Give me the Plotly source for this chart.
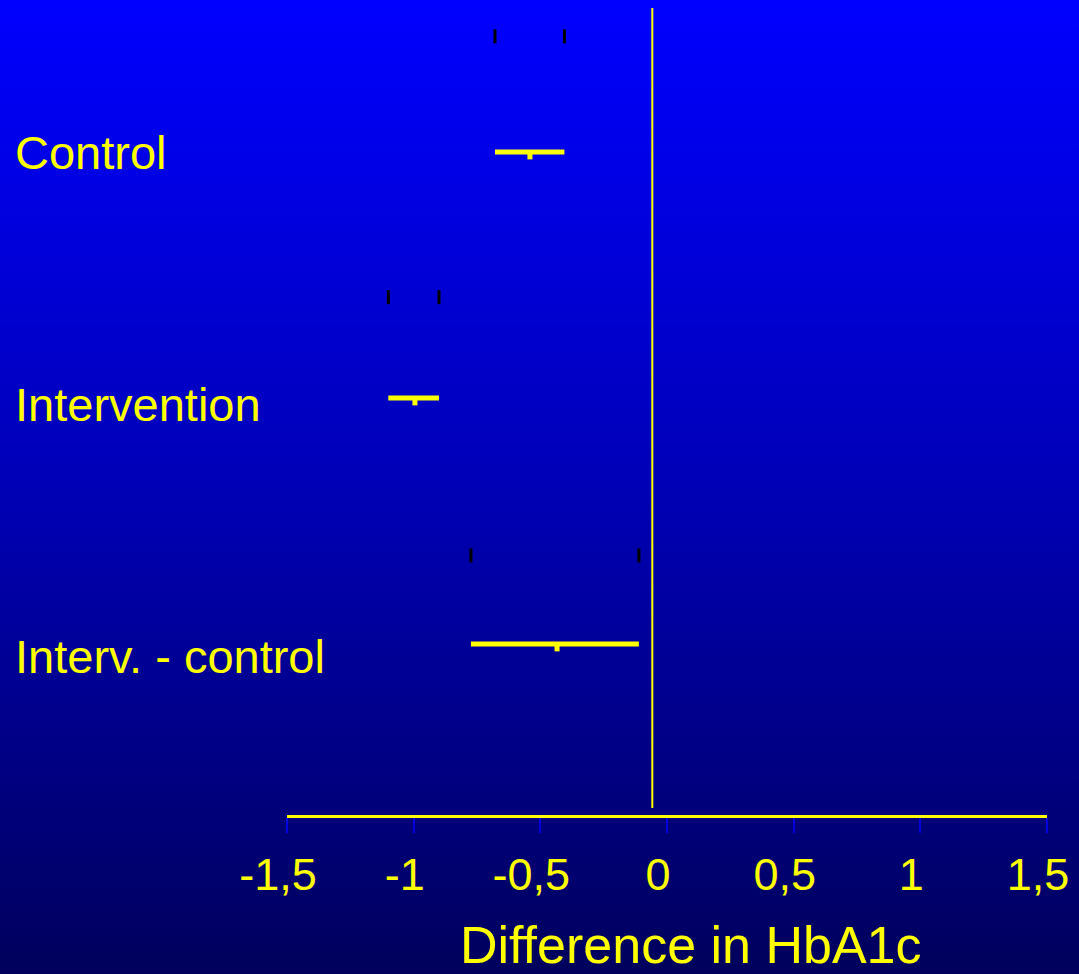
import base64
import plotly.graph_objects as go

# ---- data ----
categories = ["Control", "Intervention", "Interv. - control"]
means = [-0.541, -0.995, -0.434]
lower = [-0.679, -1.100, -0.774]
upper = [-0.405, -0.900, -0.111]
ref_line = -0.058
tick_vals = [-1.5, -1.0, -0.5, 0.0, 0.5, 1.0, 1.5]
tick_text = ["-1,5", "-1", "-0,5", "0", "0,5", "1", "1,5"]
axis_title = "Difference in HbA1c"

# ---- layout constants ----
W, H = 1079, 974
row_pos = [0, 1, 2]              # rows of CI bars
cap_pos = [-0.47, 0.59, 1.64]    # rows of small black end marks
label_pos = [0.0, 1.025, 2.05]   # rows of the category labels
mean_drop = 0.03
YEL = "#FFFF00"
FONT = "Arial, Liberation Sans, sans-serif"

unit = 246.0
y_top = -152 / unit
y_bot = (815 - 152) / unit

fig = go.Figure()

xs, ys = [], []
for lo, hi, r in zip(lower, upper, row_pos):
    xs += [lo, hi, None]
    ys += [r, r, None]
fig.add_trace(go.Scatter(x=xs, y=ys, mode="lines",
                         line=dict(color=YEL, width=5), hoverinfo="skip"))

mx, my = [], []
for m, r in zip(means, row_pos):
    mx += [m, m, None]
    my += [r, r + mean_drop, None]
fig.add_trace(go.Scatter(x=mx, y=my, mode="lines",
                         line=dict(color=YEL, width=5), hoverinfo="skip"))

cx, cy = [], []
for lo, hi, c in zip(lower, upper, cap_pos):
    cx += [lo, hi]
    cy += [c, c]
fig.add_trace(go.Scatter(x=cx, y=cy, mode="markers",
                         marker=dict(symbol="line-ns", size=10,
                                     line=dict(color="black", width=3)),
                         hoverinfo="skip"))

fig.add_shape(type="line", xref="x", yref="paper",
              x0=ref_line, x1=ref_line,
              y0=(H - 808) / H, y1=(H - 8) / H,
              line=dict(color=YEL, width=2))

for cat, lp in zip(categories, label_pos):
    fig.add_annotation(text=cat, xref="paper", yref="y",
                       x=13 / W, y=lp, xanchor="left", yanchor="middle",
                       showarrow=False,
                       font=dict(family=FONT, size=47, color=YEL))

fig.add_annotation(text=axis_title, xref="paper", yref="paper",
                   x=691 / W, y=(H - 945) / H, xanchor="center", yanchor="middle",
                   showarrow=False,
                   font=dict(family=FONT, size=52, color=YEL))

svg = (f'<svg xmlns="http://www.w3.org/2000/svg" width="{W}" height="{H}" '
       f'viewBox="0 0 {W} {H}" preserveAspectRatio="none">'
       '<defs><linearGradient id="g" x1="0" y1="0" x2="0" y2="1">'
       '<stop offset="0" stop-color="#0000FF"/>'
       '<stop offset="0.5" stop-color="#0000B6"/>'
       '<stop offset="1" stop-color="#00005C"/>'
       '</linearGradient></defs>'
       f'<rect x="0" y="0" width="{W}" height="{H}" fill="url(#g)"/></svg>')
src = "data:image/svg+xml;base64," + base64.b64encode(svg.encode()).decode()
fig.add_layout_image(source=src, xref="paper", yref="paper", x=0, y=1,
                     sizex=1, sizey=1, sizing="stretch", xanchor="left",
                     yanchor="top", layer="below")

fig.update_layout(
    width=W, height=H,
    margin=dict(l=0, r=0, t=0, b=0, pad=0, autoexpand=False),
    paper_bgcolor="#00008A",
    plot_bgcolor="rgba(0,0,0,0)",
    showlegend=False,
    xaxis=dict(domain=[287 / W, 1047 / W], range=[-1.5, 1.5],
               tickvals=tick_vals, ticktext=tick_text,
               showgrid=False, zeroline=False, automargin=False,
               showline=True, linecolor=YEL, linewidth=3,
               ticks="outside", ticklen=15, tickwidth=2, tickcolor="#0000DD",
               tickfont=dict(family=FONT, size=45, color=YEL),
               ticklabelshift=-9, ticklabelstandoff=3),
    yaxis=dict(domain=[(H - 815) / H, 1], range=[y_bot, y_top],
               visible=False, showgrid=False, zeroline=False, automargin=False),
)

fig.write_html("out.html",
               config={"displayModeBar": False},
               post_script="document.body.style.margin='0';"
                           "document.body.style.background='#00005C';")
